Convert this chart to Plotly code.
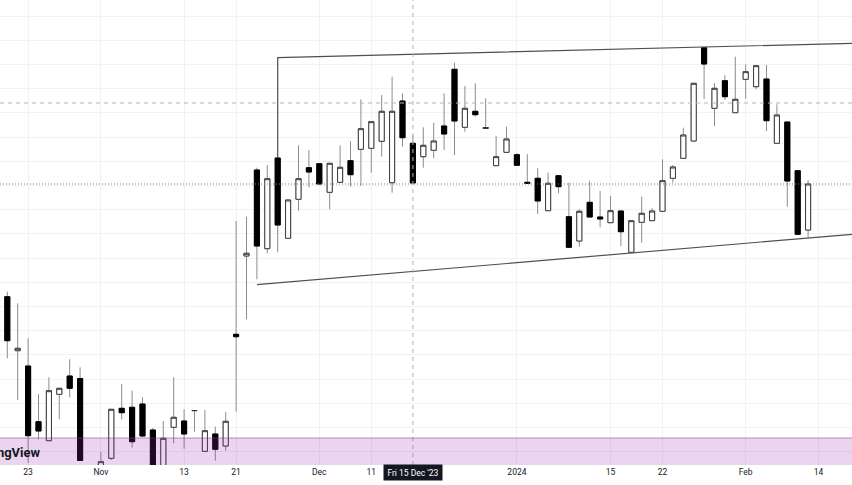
import plotly.graph_objects as go

# ---- data ----
bar_index = list(range(-1, 78))

open_ = [121.0, 120.33, 114.93, 113.4, 107.83, 105.93, 110.57, 112.4, 112.15, 103.2,
         103.0, 104.17, 109.17, 109.27, 109.6, 107.0, 103.2, 107.27, 107.9, 108.93,
         104.87, 106.6, 105.4, 116.57, 124.4, 133.0, 125.13, 134.2, 126.17, 130.07,
         133.23, 133.63, 130.77, 131.77, 133.93, 135.07, 135.17, 135.87, 131.73, 139.9,
         135.67, 134.33, 134.97, 137.4, 143.07, 137.27, 138.87, 137.15, 133.43, 134.77,
         134.53, 131.77, 132.17, 128.93, 132.43, 128.33, 125.9, 129.77, 128.3, 127.73,
         128.9, 124.77, 127.77, 127.93, 128.87, 132.17, 134.17, 135.9, 145.23, 139.17,
         141.93, 138.73, 142.07, 141.33, 142.1, 135.67, 137.8, 132.93, 127.0]

high = [121.4, 120.83, 119.67, 116.17, 110.6, 112.27, 111.17, 114.07, 113.27, 103.4,
        104.83, 109.07, 111.6, 110.93, 110.27, 107.2, 107.9, 112.27, 109.07, 108.95,
        109.0, 107.33, 108.8, 127.9, 128.33, 133.23, 133.5, 134.2, 130.0, 135.47,
        135.0, 133.63, 133.67, 135.47, 135.87, 140.07, 137.83, 140.5, 142.33, 140.67,
        136.5, 137.27, 137.73, 140.67, 143.73, 141.4, 141.67, 140.17, 136.4, 137.33,
        134.67, 134.6, 133.17, 132.73, 132.43, 131.73, 129.07, 131.93, 130.9, 130.4,
        128.9, 127.93, 130.33, 129.17, 134.07, 133.5, 137.23, 141.67, 145.23, 141.67,
        142.47, 144.33, 143.57, 143.43, 143.5, 139.57, 137.8, 132.93, 132.0]

low = [120.8, 114.17, 110.0, 103.7, 106.07, 105.93, 108.07, 110.27, 103.9, 100.0,
       102.0, 104.0, 108.07, 105.23, 106.3, 103.0, 103.0, 105.67, 105.13, 106.83,
       104.87, 103.93, 104.93, 108.83, 118.07, 122.07, 124.67, 124.77, 126.17, 128.93,
       131.27, 131.6, 129.07, 131.77, 131.33, 131.4, 132.73, 134.33, 130.73, 135.33,
       131.7, 133.23, 134.17, 135.0, 134.5, 136.83, 138.33, 137.15, 133.43, 134.77,
       133.4, 131.67, 128.6, 128.93, 130.67, 125.27, 125.33, 128.3, 127.27, 127.73,
       125.4, 124.67, 125.73, 127.93, 128.87, 131.73, 134.17, 135.9, 140.1, 137.4,
       140.0, 138.73, 140.13, 141.07, 136.9, 135.67, 129.33, 126.57, 126.27]

close = [121.3, 115.93, 115.17, 106.43, 106.9, 110.93, 111.17, 111.17, 103.95, 101.0,
         103.83, 109.07, 108.73, 105.83, 106.4, 103.3, 106.17, 108.27, 106.6, 108.95,
         106.93, 105.07, 107.87, 116.33, 124.67, 125.4, 132.13, 127.5, 130.0, 132.13,
         132.8, 131.6, 133.67, 133.27, 132.53, 137.13, 137.83, 138.87, 138.87, 136.23,
         131.7, 135.47, 135.9, 136.6, 137.9, 139.17, 138.53, 137.25, 134.33, 136.1,
         133.47, 131.67, 129.9, 131.67, 131.33, 125.27, 128.87, 128.3, 128.1, 128.93,
         126.83, 127.93, 128.67, 128.9, 131.93, 133.3, 136.5, 141.67, 143.6, 141.17,
         140.33, 140.07, 142.83, 143.43, 137.93, 138.5, 131.9, 126.57, 131.6]

tick_pos = [2, 9, 17, 22, 30, 35, 49, 58, 63, 71, 78]
tick_text = ["23", "Nov", "13", "21", "Dec", "11", "2024", "15", "22", "Feb", "14"]

crosshair_bar = 39
crosshair_label = "Fri 15 Dec '23"
crosshair_price = 139.7
last_price = close[-1]

upper_channel = [(26, 134.2), (26, 144.23), (81.22, 145.67)]
lower_channel = [(24, 121.53), (81.22, 126.57)]
zone_top = 106.2

# ---- layout constants ----
X_RANGE = [-0.702, 81.221]
Y_RANGE = [103.5, 150.0]

body_high = [max(o, c) for o, c in zip(open_, close)]
body_low = [min(o, c) for o, c in zip(open_, close)]

fig = go.Figure()

# wicks (grey)
fig.add_trace(go.Candlestick(
    x=bar_index, open=open_, high=high, low=low, close=close,
    increasing=dict(line=dict(color="#8c8c8c", width=1), fillcolor="#ffffff"),
    decreasing=dict(line=dict(color="#8c8c8c", width=1), fillcolor="#000000"),
    whiskerwidth=0, hoverinfo="skip", showlegend=False))

# bodies (black / white)
fig.add_trace(go.Candlestick(
    x=bar_index, open=open_, high=body_high, low=body_low, close=close,
    increasing=dict(line=dict(color="#3a3a3a", width=1), fillcolor="#ffffff"),
    decreasing=dict(line=dict(color="#000000", width=1), fillcolor="#000000"),
    whiskerwidth=0, hoverinfo="skip", showlegend=False))

shapes = []
# channel drawings
up_path = "M " + " L ".join(f"{x},{y}" for x, y in upper_channel)
shapes.append(dict(type="path", xref="x", yref="y", path=up_path,
                   line=dict(color="#4f4f4f", width=1.2), layer="above"))
shapes.append(dict(type="line", xref="x", yref="y",
                   x0=lower_channel[0][0], y0=lower_channel[0][1],
                   x1=lower_channel[1][0], y1=lower_channel[1][1],
                   line=dict(color="#4f4f4f", width=1.2), layer="above"))
# last price dotted line
shapes.append(dict(type="line", xref="paper", yref="y", x0=0, x1=1,
                   y0=last_price, y1=last_price,
                   line=dict(color="#7a7a7a", width=1, dash="1px,2px"), layer="above"))
# crosshair
shapes.append(dict(type="line", xref="paper", yref="y", x0=0, x1=1,
                   y0=crosshair_price, y1=crosshair_price,
                   line=dict(color="#b2b5be", width=1, dash="4px,4px"), layer="above"))
shapes.append(dict(type="line", xref="x", yref="paper", x0=crosshair_bar, x1=crosshair_bar,
                   y0=0, y1=1,
                   line=dict(color="#b2b5be", width=1, dash="4px,4px"), layer="above"))
# purple zone
shapes.append(dict(type="rect", xref="paper", yref="y", x0=0, x1=1,
                   y0=Y_RANGE[0], y1=zone_top,
                   fillcolor="rgba(156,39,176,0.2)", line=dict(width=0), layer="above"))
shapes.append(dict(type="line", xref="paper", yref="y", x0=0, x1=1,
                   y0=zone_top, y1=zone_top,
                   line=dict(color="rgba(156,39,176,0.55)", width=1), layer="above"))

annotations = [
    dict(text="<b>TradingView</b>", xref="paper", yref="paper",
         x=43 / 852, y=13 / 465, xanchor="right", yanchor="middle", showarrow=False,
         font=dict(family="Roboto", size=13, color="#131722")),
    dict(text=crosshair_label, xref="x", yref="paper", x=crosshair_bar, y=-8 / 465,
         xanchor="center", yanchor="middle", showarrow=False,
         bgcolor="#131722", width=56, height=13, borderpad=1,
         font=dict(family="Roboto", size=8.5, color="#ffffff")),
]

fig.update_layout(
    width=852, height=485,
    margin=dict(l=0, r=0, t=0, b=20),
    paper_bgcolor="#ffffff", plot_bgcolor="#ffffff",
    showlegend=False, hovermode=False,
    shapes=shapes, annotations=annotations,
    xaxis=dict(range=X_RANGE, rangeslider=dict(visible=False),
               tickmode="array", tickvals=tick_pos, ticktext=tick_text,
               showgrid=True, gridcolor="#f1f2f5", gridwidth=1,
               zeroline=False, showline=False, ticks="",
               tickfont=dict(family="Roboto", size=8.5, color="#131722"),
               fixedrange=True),
    yaxis=dict(range=Y_RANGE, tick0=148.4, dtick=2.42,
               showgrid=True, gridcolor="#f1f2f5", gridwidth=1,
               showticklabels=False, zeroline=False, showline=False, ticks="",
               fixedrange=True),
)

fig.write_html("out.html", config={"displayModeBar": False},
               post_script="document.body.style.margin='0px';document.body.style.overflow='hidden';")
